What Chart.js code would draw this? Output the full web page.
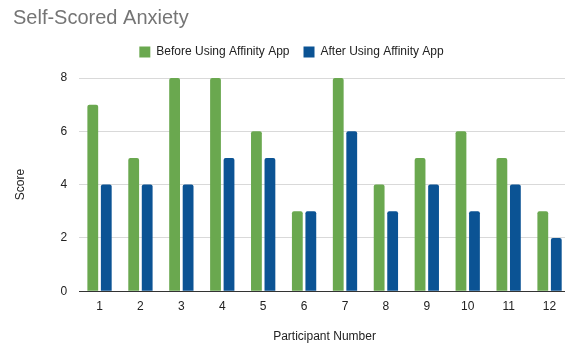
<!DOCTYPE html>
<html lang="en">
<head>
  <meta charset="UTF-8">
  <title>Self-Scored Anxiety</title>
  <script src="https://cdn.jsdelivr.net/npm/chart.js"></script>
  <style>
    html, body { margin: 0; padding: 0; background: #fff; overflow: hidden; }
    .wrap { width: 570px; height: 344px; position: relative; }
  </style>
</head>
<body>
  <div class="wrap"><canvas id="anxietyChart"></canvas></div>
  <script>
    // chart data
    const participants = ['1', '2', '3', '4', '5', '6', '7', '8', '9', '10', '11', '12'];
    const beforeScores = [7, 5, 8, 8, 6, 3, 8, 4, 5, 6, 5, 3];
    const afterScores = [4, 4, 4, 5, 5, 3, 6, 3, 4, 3, 4, 2];
    const scoreTicks = [0, 2, 4, 6, 8];

    Chart.defaults.font.family = "'Liberation Sans', Arial, sans-serif";
    Chart.defaults.color = '#444';

    // tweak the legend height so the plot starts lower
    const legendGap = {
      id: 'legendGap',
      beforeInit(chart) {
        const fit = chart.legend.fit;
        chart.legend.fit = function () {
          fit.bind(chart.legend)();
          this.height += 10;
        };
      }
    };

    new Chart(document.getElementById('anxietyChart'), {
      type: 'bar',
      data: {
        labels: participants,
        datasets: [
          {
            label: 'Before Using Affinity App',
            data: beforeScores,
            backgroundColor: '#6aa84f',
            borderRadius: { topLeft: 2, topRight: 2 },
            borderSkipped: 'bottom',
            categoryPercentage: 0.66,
            barPercentage: 0.8
          },
          {
            label: 'After Using Affinity App',
            data: afterScores,
            backgroundColor: '#0b5394',
            borderRadius: { topLeft: 2, topRight: 2 },
            borderSkipped: 'bottom',
            categoryPercentage: 0.66,
            barPercentage: 0.8
          }
        ]
      },
      options: {
        responsive: true,
        maintainAspectRatio: false,
        animation: false,
        layout: { padding: { left: 13, right: 0, top: 4, bottom: 0 } },
        plugins: {
          title: {
            display: true,
            text: 'Self-Scored Anxiety',
            align: 'start',
            color: '#757575',
            font: { size: 20, weight: 'normal' },
            padding: { top: 2, bottom: 2 }
          },
          legend: {
            position: 'top',
            labels: {
              boxWidth: 11,
              boxHeight: 11,
              padding: 14,
              color: '#222',
              font: { size: 12 }
            }
          },
          tooltip: { enabled: false }
        },
        scales: {
          x: {
            grid: { display: false, drawTicks: false },
            border: { display: true, color: '#333', width: 1 },
            ticks: { color: '#222', font: { size: 12 }, padding: 8 },
            title: {
              display: true,
              text: 'Participant Number',
              color: '#222',
              font: { size: 12 },
              padding: { top: 8, bottom: 0 }
            }
          },
          y: {
            min: 0,
            max: 8,
            afterBuildTicks: (axis) => { axis.ticks = scoreTicks.map(v => ({ value: v })); },
            grid: { color: '#d9d9d9', drawTicks: false },
            border: { display: false },
            ticks: { color: '#222', font: { size: 12 }, padding: 12 },
            title: {
              display: true,
              text: 'Score',
              color: '#222',
              font: { size: 12 },
              padding: { top: 0, bottom: 21 }
            }
          }
        }
      },
      plugins: [legendGap]
    });
  </script>
</body>
</html>
